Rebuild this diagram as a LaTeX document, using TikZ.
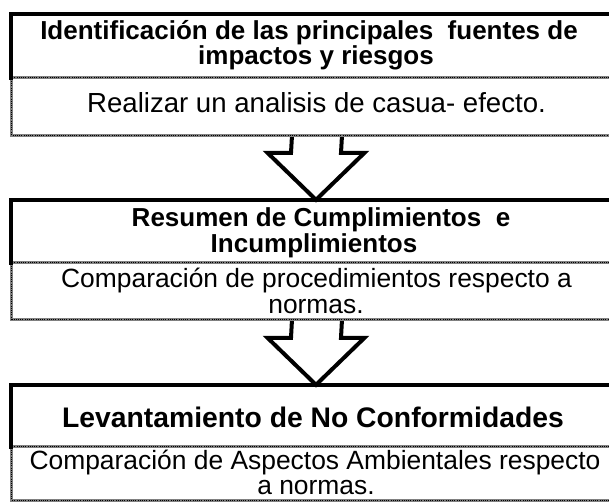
\documentclass[tikz,border=0pt]{standalone}
\usepackage{fontspec}
\setmainfont{Liberation Sans}
\usetikzlibrary{calc}
\tikzset{
  part/.style={rectangle, inner sep=0pt, minimum width=610pt},
  blackedge/.style={draw=black, line width=3.6pt, line cap=rect},
  greyedge/.style={draw=black!50, line width=2.8pt,
    postaction={draw=black, line width=1pt, dash pattern=on 0.8pt off 1.4pt}},
  blockarrow/.style={draw=black, line width=4pt, fill=white},
  ttl/.style={anchor=base, inner sep=0pt, font=\fontsize{26}{26}\selectfont\bfseries},
  ttlbig/.style={anchor=base, inner sep=0pt, font=\fontsize{28.3}{28.3}\selectfont\bfseries},
  dsc/.style={anchor=base, inner sep=0pt, font=\fontsize{26.4}{26.4}\selectfont},
}
\begin{document}
\begin{tikzpicture}[x=1pt, y=-1pt]
\useasboundingbox (0,0) rectangle (609,502);
\clip (0,0) rectangle (609,502);
\fill[white] (0,0) rectangle (609,502);

% box parts
\node[part, minimum height=64pt] (t1) at (316,46) {};
\node[part, minimum height=57pt] (d1) at (317,106.5) {};
\node[part, minimum height=63pt] (t2) at (316,231.5) {};
\node[part, minimum height=56pt] (d2) at (317,291) {};
\node[part, minimum height=62pt] (t3) at (316,416) {};
\node[part, minimum height=53pt] (d3) at (317,473.5) {};

% block arrows
\draw[blockarrow]
  ($(d1.south)+(-25,0)$) -- ($(t2.north)+(-25,-47)$) -- ($(t2.north)+(-48.5,-47)$)
  -- (t2.north) -- ($(t2.north)+(48.5,-47)$) -- ($(t2.north)+(25,-47)$) -- ($(d1.south)+(25,0)$);
\draw[blockarrow]
  ($(d2.south)+(-25,0)$) -- ($(t3.north)+(-25,-47)$) -- ($(t3.north)+(-48.5,-47)$)
  -- (t3.north) -- ($(t3.north)+(48.5,-47)$) -- ($(t3.north)+(25,-47)$) -- ($(d2.south)+(25,0)$);

% description frames (grey dotted)
\foreach \dd in {d1,d2,d3}{
  \draw[greyedge] ($(\dd.north east)+(20,0)$) -- (\dd.north west) -- (\dd.south west) -- ($(\dd.south east)+(20,0)$);
}
% title frames (thick black)
\foreach \tt in {t1,t2,t3}{
  \draw[blackedge] (\tt.south west) -- (\tt.north west) -- ($(\tt.north east)+(20,0)$);
}

% texts
\node[ttl] (t1a) at (309,40) {Identificación de las principales~ fuentes de};
\node[ttl] (t1b) at (316,65) {impactos y riesgos};
\node[dsc, font=\fontsize{27.6}{27.6}\selectfont] (d1a) at (316.5,113) {Realizar un analisis de casua- efecto.};

\node[ttl] (t2a) at (321,227) {Resumen de Cumplimientos~ e};
\node[ttl] (t2b) at (314,252) {Incumplimientos};
\node[dsc] (d2a) at (316.5,287) {Comparación de procedimientos respecto a};
\node[dsc] (d2b) at (316,313) {normas.};

\node[ttlbig] (t3a) at (313,427) {Levantamiento de No Conformidades};
\node[dsc] (d3a) at (315,469) {Comparación de Aspectos Ambientales respecto};
\node[dsc] (d3b) at (316,494) {a normas.};
\end{tikzpicture}
\end{document}
